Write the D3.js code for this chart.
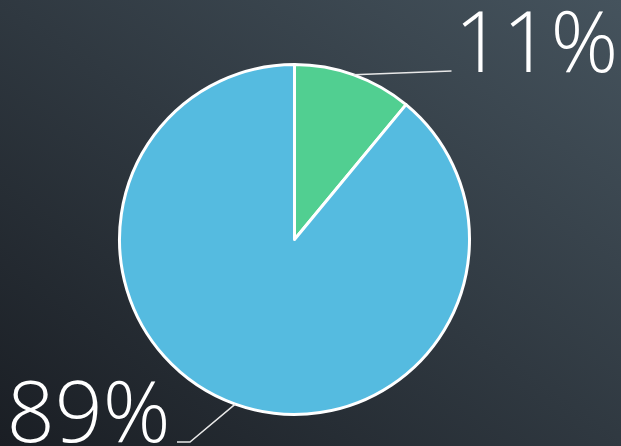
<!DOCTYPE html>
<html>
<head>
<meta charset="utf-8">
<script src="https://cdn.jsdelivr.net/npm/d3@7"></script>
<style>
  html, body { margin: 0; padding: 0; overflow: hidden; }
  svg { display: block; }
</style>
</head>
<body>
<div id="canvas"></div>
<script>
var categories = ["A", "B"];
var values = [11, 89];
var labels = ["11%", "89%"];
var colors = ["#51cf91", "#55bbe0"];

var width = 621, height = 446;
var cx = 294.5, cy = 239.5, radius = 175;

var svg = d3.select("#canvas").append("svg")
    .attr("width", width)
    .attr("height", height);

// background gradient, dark bottom-left to lighter top-right
var grad = svg.append("defs").append("linearGradient")
    .attr("id", "bg")
    .attr("x1", "0%").attr("y1", "100%")
    .attr("x2", "100%").attr("y2", "0%");
grad.append("stop").attr("offset", "0%").attr("stop-color", "#1a1e24");
grad.append("stop").attr("offset", "100%").attr("stop-color", "#45535d");

svg.append("rect")
    .attr("width", width)
    .attr("height", height)
    .attr("fill", "url(#bg)");

// cut-off title, only a descender peeks in
svg.append("text")
    .attr("x", 222)
    .attr("y", -16)
    .attr("text-anchor", "middle")
    .attr("font-family", "Open Sans")
    .attr("font-weight", 300)
    .attr("font-size", "60px")
    .attr("fill", "#ffffff")
    .text("g");

var pie = d3.pie().sort(null).value(function (d) { return d; });
var arcs = pie(values);

var arc = d3.arc().innerRadius(0).outerRadius(radius);
var edge = d3.arc().innerRadius(radius).outerRadius(radius);

var g = svg.append("g")
    .attr("transform", "translate(" + cx + "," + cy + ")");

g.selectAll("path")
    .data(arcs).enter()
    .append("path")
    .attr("d", arc)
    .attr("fill", function (d, i) { return colors[i]; })
    .attr("stroke", "#ffffff")
    .attr("stroke-width", 3)
    .attr("stroke-linejoin", "round");

// label placement (offsets from the pie centre)
var labelPos = [
    { elbow: [157, -168.5], end: [157, -168.5], tx: 160, ty: -168, anchor: "start" },
    { elbow: [-104.5, 202.5], end: [-117.5, 202.5], tx: -124, ty: 202, anchor: "end" }
];

g.selectAll("polyline")
    .data(arcs).enter()
    .append("polyline")
    .attr("points", function (d, i) {
        var p = edge.centroid(d);
        var l = labelPos[i];
        return [p, l.elbow, l.end].map(function (q) { return q.join(","); }).join(" ");
    })
    .attr("fill", "none")
    .attr("stroke", "#e8e8e8")
    .attr("stroke-width", 1.5);

g.selectAll("text.lbl")
    .data(arcs).enter()
    .append("text")
    .attr("class", "lbl")
    .attr("x", function (d, i) { return labelPos[i].tx; })
    .attr("y", function (d, i) { return labelPos[i].ty; })
    .attr("text-anchor", function (d, i) { return labelPos[i].anchor; })
    .attr("font-family", "Open Sans")
    .attr("font-weight", 300)
    .attr("font-size", "84px")
    .attr("fill", "#ffffff")
    .text(function (d, i) { return labels[i]; });
</script>
</body>
</html>
